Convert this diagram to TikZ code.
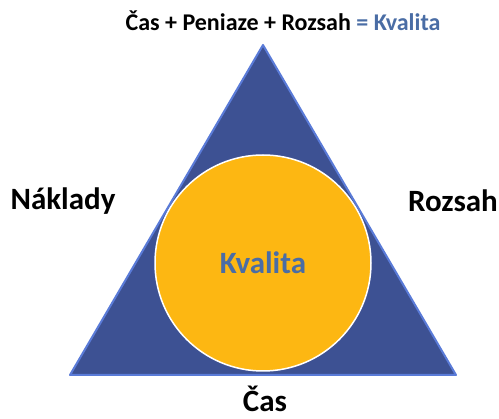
\documentclass[tikz,border=0pt]{standalone}
\usepackage{fontspec}
\setmainfont{Carlito}
\usepackage{xcolor}
\definecolor{triblue}{HTML}{3D5193}
\definecolor{triedge}{HTML}{5A7BD8}
\definecolor{coreamber}{HTML}{FDB712}
\definecolor{textblue}{HTML}{4A6DA5}
\usepackage{tikz}
\usetikzlibrary{positioning,calc}

\tikzset{
  sidelabel/.style={font=\fontsize{31}{33}\selectfont\bfseries, text=black},
  titlelabel/.style={font=\fontsize{24}{26}\selectfont\bfseries},
}

\begin{document}
\begin{tikzpicture}[x=1pt,y=-1pt]
  \useasboundingbox (0,0) rectangle (499,419);
  % triangle
  \coordinate (apex) at (263,45);
  \coordinate (leftc) at (70,375);
  \coordinate (rightc) at (456,375);
  \fill[triblue, draw=triedge, line width=2pt, line join=round] (apex) -- (leftc) -- (rightc) -- cycle;
  % circle
  \node[circle, minimum size=216pt, inner sep=0pt, fill=coreamber, draw=white, line width=1.5pt] (core) at (263,263) {};
  \node[font=\fontsize{31}{33}\selectfont\bfseries, text=textblue] (kvalita) at (core) {Kvalita};
  % labels
  \node[titlelabel] (title) at (283,21) {Čas + Peniaze + Rozsah \textcolor{textblue}{= Kvalita}};
  \node[sidelabel] (naklady) at (63,201) {Náklady};
  \node[sidelabel] (rozsah) at (453,201) {Rozsah};
  \node[sidelabel] (cas) at (265,399) {Čas};
\end{tikzpicture}
\end{document}
